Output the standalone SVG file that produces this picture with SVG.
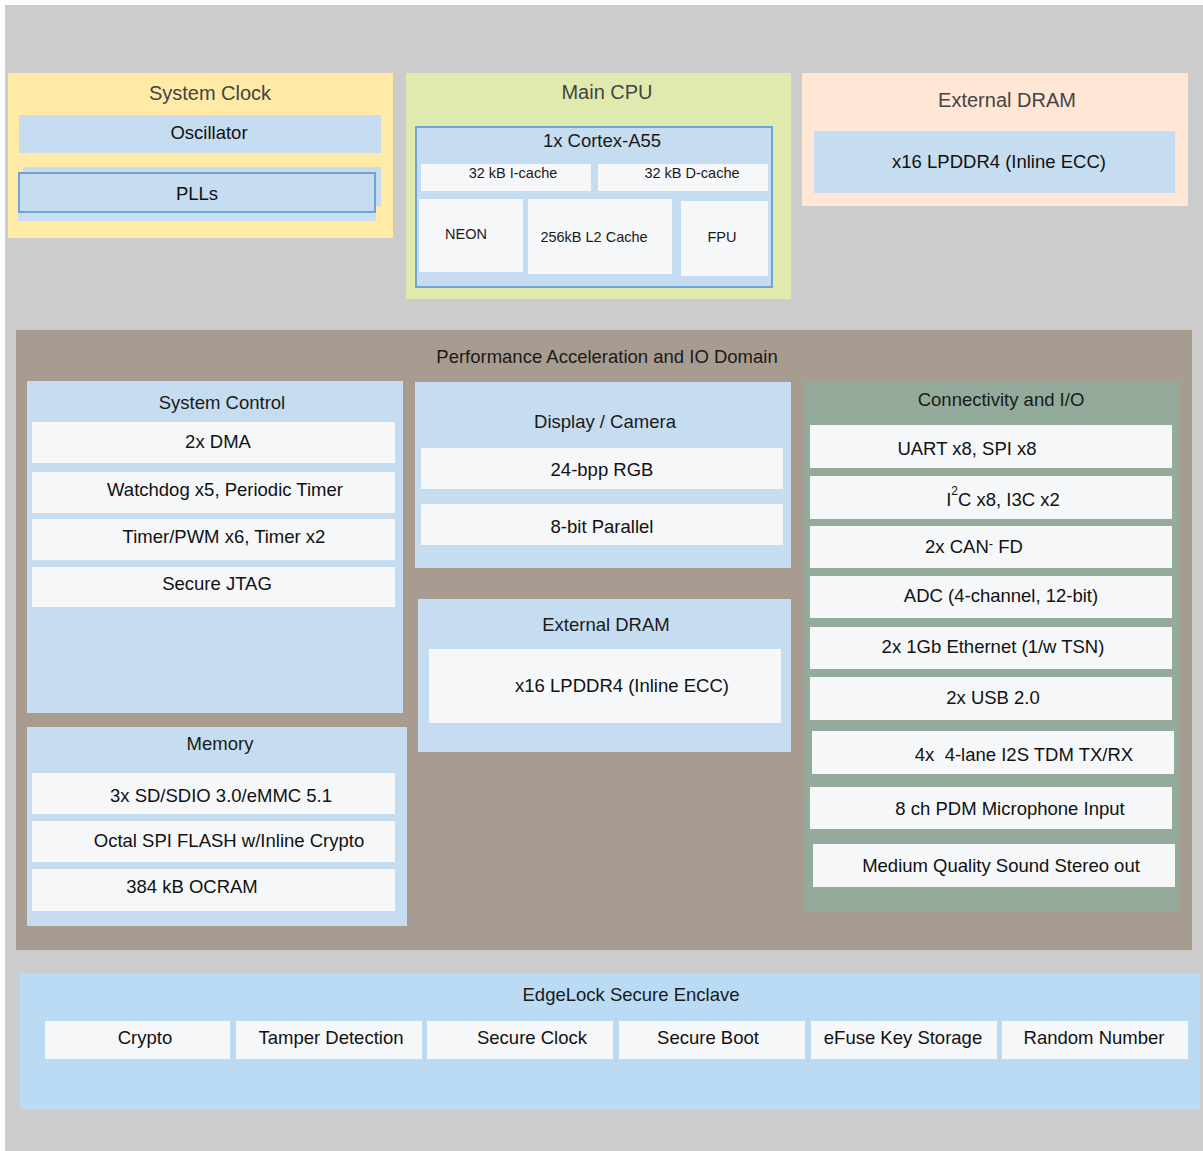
<svg xmlns="http://www.w3.org/2000/svg" width="1203" height="1151" viewBox="0 0 1203 1151">
<style>
text{font-family:"Liberation Sans",Arial,sans-serif;text-anchor:middle;}
.t{font-size:20px;fill:#444;}
.h{font-size:18.5px;fill:#1a1a1a;}
.s{font-size:14.5px;fill:#1a1a1a;}
.i{font-size:18.5px;fill:#111;}
.item{fill:#f5f7f9;}
.blue{fill:#c6dcf0;}
</style>
<rect x="0" y="0" width="1203" height="1151" fill="#ffffff"/>
<rect x="5" y="5" width="1198" height="1146" fill="#cccccc"/>

<g id="system-clock">
<rect x="8" y="73" width="385" height="165" fill="#ffeaa7"/>
<text class="t" x="210" y="100">System Clock</text>
<g id="oscillator"><rect class="blue" x="19" y="115" width="362" height="38"/><text class="i" x="209" y="139">Oscillator</text></g>
<g id="plls">
<rect x="18" y="172" width="358" height="49" fill="#c9def0"/>
<rect class="blue" x="23" y="167" width="358" height="39"/>
<rect x="19" y="173" width="356" height="39" fill="#c6dcf0" stroke="#6fa3d8" stroke-width="2"/>
<text class="i" x="197" y="200">PLLs</text>
</g>
</g>

<g id="main-cpu">
<rect x="406" y="73" width="385" height="226" fill="#e0eaae"/>
<text class="t" x="607" y="99">Main CPU</text>
<g id="cortex-a55">
<rect x="416" y="127" width="356" height="160" fill="#c6dcf0" stroke="#6fa3d8" stroke-width="2"/>
<text class="h" x="602" y="147">1x Cortex-A55</text>
<g id="icache"><rect class="item" x="421" y="164" width="170" height="27"/><text class="s" x="513" y="178">32 kB I-cache</text></g>
<g id="dcache"><rect class="item" x="598" y="164" width="170" height="27"/><text class="s" x="692" y="178">32 kB D-cache</text></g>
<g id="neon"><rect class="item" x="419" y="199" width="104" height="73"/><text class="s" x="466" y="239">NEON</text></g>
<g id="l2"><rect class="item" x="528" y="199" width="144" height="75"/><text class="s" x="594" y="242">256kB L2 Cache</text></g>
<g id="fpu"><rect class="item" x="681" y="201" width="87" height="75"/><text class="s" x="722" y="242">FPU</text></g>
</g>
</g>

<g id="external-dram-top">
<rect x="802" y="73" width="386" height="133" fill="#ffe6d5"/>
<text class="t" x="1007" y="107">External DRAM</text>
<g id="lpddr4-top"><rect class="blue" x="814" y="131" width="361" height="62"/><text class="i" x="999" y="168">x16 LPDDR4 (Inline ECC)</text></g>
</g>

<g id="perf-domain">
<rect x="16" y="330" width="1176" height="620" fill="#a89c90"/>
<text class="h" x="607" y="363" fill="#333">Performance Acceleration and IO Domain</text>
</g>

<g id="system-control">
<rect class="blue" x="27" y="381" width="376" height="332"/>
<text class="h" x="222" y="409">System Control</text>
<g id="dma"><rect class="item" x="32" y="422" width="363" height="41"/><text class="i" x="218" y="448">2x DMA</text></g>
<g id="watchdog"><rect class="item" x="32" y="472" width="363" height="41"/><text class="i" x="225" y="496">Watchdog x5, Periodic Timer</text></g>
<g id="timer"><rect class="item" x="32" y="519" width="363" height="41"/><text class="i" x="224" y="543">Timer/PWM x6, Timer x2</text></g>
<g id="jtag"><rect class="item" x="32" y="567" width="363" height="40"/><text class="i" x="217" y="590">Secure JTAG</text></g>
</g>

<g id="memory">
<rect class="blue" x="27" y="727" width="380" height="199"/>
<text class="h" x="220" y="750">Memory</text>
<g id="sd"><rect class="item" x="32" y="773" width="363" height="41"/><text class="i" x="221" y="802">3x SD/SDIO 3.0/eMMC 5.1</text></g>
<g id="octal"><rect class="item" x="32" y="821" width="363" height="41"/><text class="i" x="229" y="847">Octal SPI FLASH w/Inline Crypto</text></g>
<g id="ocram"><rect class="item" x="32" y="869" width="363" height="42"/><text class="i" x="192" y="893">384 kB OCRAM</text></g>
</g>

<g id="display-camera">
<rect class="blue" x="415" y="382" width="376" height="186"/>
<text class="h" x="605" y="428">Display / Camera</text>
<g id="rgb"><rect class="item" x="421" y="448" width="362" height="41"/><text class="i" x="602" y="476">24-bpp RGB</text></g>
<g id="parallel"><rect class="item" x="421" y="504" width="362" height="41"/><text class="i" x="602" y="533">8-bit Parallel</text></g>
</g>

<g id="external-dram-inner">
<rect class="blue" x="418" y="599" width="373" height="153"/>
<text class="h" x="606" y="631">External DRAM</text>
<g id="lpddr4-inner"><rect class="item" x="429" y="649" width="352" height="74"/><text class="i" x="622" y="692">x16 LPDDR4 (Inline ECC)</text></g>
</g>

<g id="connectivity">
<rect x="803" y="382" width="377" height="529" fill="#94ab9b"/>
<text class="h" x="1001" y="406">Connectivity and I/O</text>
<g id="uart"><rect class="item" x="810" y="425" width="362" height="43"/><text class="i" x="967" y="455">UART x8, SPI x8</text></g>
<g id="i2c"><rect class="item" x="810" y="476" width="362" height="43"/><text class="i" x="1003" y="506">I<tspan font-size="12" dy="-11">2</tspan><tspan dy="11">C x8, I3C x2</tspan></text></g>
<g id="can"><rect class="item" x="810" y="526" width="362" height="42"/><text class="i" x="974" y="553">2x CAN<tspan font-size="13" dy="-5">-</tspan><tspan dy="5"> FD</tspan></text></g>
<g id="adc"><rect class="item" x="810" y="576" width="362" height="42"/><text class="i" x="1001" y="602">ADC (4-channel, 12-bit)</text></g>
<g id="ethernet"><rect class="item" x="810" y="627" width="362" height="42"/><text class="i" x="993" y="653">2x 1Gb Ethernet (1/w TSN)</text></g>
<g id="usb"><rect class="item" x="810" y="677" width="362" height="43"/><text class="i" x="993" y="704">2x USB 2.0</text></g>
<g id="i2s"><rect class="item" x="812" y="731" width="362" height="43"/><text class="i" x="1024" y="761" xml:space="preserve">4x  4-lane I2S TDM TX/RX</text></g>
<g id="pdm"><rect class="item" x="810" y="787" width="362" height="42"/><text class="i" x="1010" y="815">8 ch PDM Microphone Input</text></g>
<g id="sound"><rect class="item" x="813" y="844" width="362" height="43"/><text class="i" x="1001" y="872">Medium Quality Sound Stereo out</text></g>
</g>

<g id="edgelock">
<rect x="20" y="973" width="1180" height="137" fill="#bbdaf3"/>
<text class="h" x="631" y="1001">EdgeLock Secure Enclave</text>
<g id="crypto"><rect class="item" x="45" y="1021" width="185" height="38"/><text class="i" x="145" y="1044">Crypto</text></g>
<g id="tamper"><rect class="item" x="236" y="1021" width="186" height="38"/><text class="i" x="331" y="1044">Tamper Detection</text></g>
<g id="secure-clock"><rect class="item" x="427" y="1021" width="186" height="38"/><text class="i" x="532" y="1044">Secure Clock</text></g>
<g id="secure-boot"><rect class="item" x="619" y="1021" width="186" height="38"/><text class="i" x="708" y="1044">Secure Boot</text></g>
<g id="efuse"><rect class="item" x="811" y="1021" width="186" height="38"/><text class="i" x="903" y="1044">eFuse Key Storage</text></g>
<g id="random"><rect class="item" x="1002" y="1021" width="186" height="38"/><text class="i" x="1094" y="1044">Random Number</text></g>
</g>

<g id="connectors"></g>
</svg>
